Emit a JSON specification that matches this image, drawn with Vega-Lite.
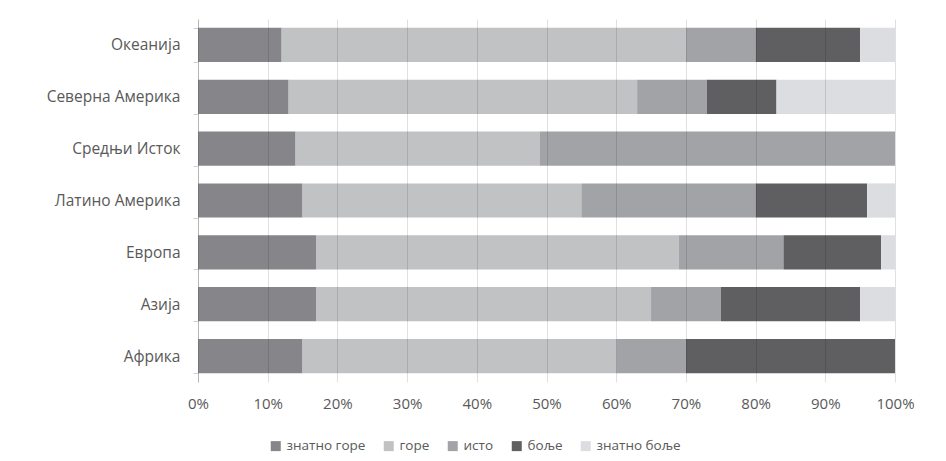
{
  "$schema": "https://vega.github.io/schema/vega-lite/v6.json",
  "width": 697,
  "height": 363,
  "autosize": "none",
  "padding": {"left": 198, "top": 19, "right": 51, "bottom": 79},
  "background": "white",
  "config": {
    "view": {"stroke": null},
    "font": "Open Sans"
  },
  "data": {
    "values": [
      {"region": "Океанија", "answer": "знатно горе", "ord": 1, "value": 12},
      {"region": "Океанија", "answer": "горе", "ord": 2, "value": 58},
      {"region": "Океанија", "answer": "исто", "ord": 3, "value": 10},
      {"region": "Океанија", "answer": "боље", "ord": 4, "value": 15},
      {"region": "Океанија", "answer": "знатно боље", "ord": 5, "value": 5},
      {"region": "Северна Америка", "answer": "знатно горе", "ord": 1, "value": 13},
      {"region": "Северна Америка", "answer": "горе", "ord": 2, "value": 50},
      {"region": "Северна Америка", "answer": "исто", "ord": 3, "value": 10},
      {"region": "Северна Америка", "answer": "боље", "ord": 4, "value": 10},
      {"region": "Северна Америка", "answer": "знатно боље", "ord": 5, "value": 17},
      {"region": "Средњи Исток", "answer": "знатно горе", "ord": 1, "value": 14},
      {"region": "Средњи Исток", "answer": "горе", "ord": 2, "value": 35},
      {"region": "Средњи Исток", "answer": "исто", "ord": 3, "value": 51},
      {"region": "Средњи Исток", "answer": "боље", "ord": 4, "value": 0},
      {"region": "Средњи Исток", "answer": "знатно боље", "ord": 5, "value": 0},
      {"region": "Латино Америка", "answer": "знатно горе", "ord": 1, "value": 15},
      {"region": "Латино Америка", "answer": "горе", "ord": 2, "value": 40},
      {"region": "Латино Америка", "answer": "исто", "ord": 3, "value": 25},
      {"region": "Латино Америка", "answer": "боље", "ord": 4, "value": 16},
      {"region": "Латино Америка", "answer": "знатно боље", "ord": 5, "value": 4},
      {"region": "Европа", "answer": "знатно горе", "ord": 1, "value": 17},
      {"region": "Европа", "answer": "горе", "ord": 2, "value": 52},
      {"region": "Европа", "answer": "исто", "ord": 3, "value": 15},
      {"region": "Европа", "answer": "боље", "ord": 4, "value": 14},
      {"region": "Европа", "answer": "знатно боље", "ord": 5, "value": 2},
      {"region": "Азија", "answer": "знатно горе", "ord": 1, "value": 17},
      {"region": "Азија", "answer": "горе", "ord": 2, "value": 48},
      {"region": "Азија", "answer": "исто", "ord": 3, "value": 10},
      {"region": "Азија", "answer": "боље", "ord": 4, "value": 20},
      {"region": "Азија", "answer": "знатно боље", "ord": 5, "value": 5},
      {"region": "Африка", "answer": "знатно горе", "ord": 1, "value": 15},
      {"region": "Африка", "answer": "горе", "ord": 2, "value": 45},
      {"region": "Африка", "answer": "исто", "ord": 3, "value": 10},
      {"region": "Африка", "answer": "боље", "ord": 4, "value": 30},
      {"region": "Африка", "answer": "знатно боље", "ord": 5, "value": 0}
    ]
  },
  "mark": {"type": "bar"},
  "encoding": {
    "y": {
      "field": "region",
      "type": "nominal",
      "sort": ["Океанија", "Северна Америка", "Средњи Исток", "Латино Америка", "Европа", "Азија", "Африка"],
      "scale": {"paddingInner": 0.34, "paddingOuter": 0.17},
      "axis": {
        "title": null,
        "tickBand": "extent",
        "tickSize": 5,
        "tickColor": "#d0d0d0",
        "domainColor": "#d0d0d0",
        "labelFontSize": 15.5,
        "labelColor": "#595959",
        "labelPadding": 13,
        "grid": false
      }
    },
    "x": {
      "field": "value",
      "type": "quantitative",
      "stack": "normalize",
      "scale": {"domain": [0, 1]},
      "axis": {
        "title": null,
        "format": ".0%",
        "values": [0, 0.1, 0.2, 0.3, 0.4, 0.5, 0.6, 0.7, 0.8, 0.9, 1],
        "domain": false,
        "ticks": false,
        "grid": true,
        "gridColor": "#000000",
        "gridOpacity": 0.12,
        "zindex": 1,
        "labelFlush": false,
        "labelOverlap": false,
        "labelFontSize": 15,
        "labelColor": "#595959",
        "labelPadding": 14
      }
    },
    "color": {
      "field": "answer",
      "type": "nominal",
      "scale": {
        "domain": ["знатно горе", "горе", "исто", "боље", "знатно боље"],
        "range": ["#86868a", "#c1c2c4", "#a2a3a6", "#5f5f61", "#dcdde0"]
      },
      "legend": {
        "title": null,
        "orient": "none",
        "direction": "horizontal",
        "legendX": 71,
        "legendY": 420,
        "symbolType": "square",
        "symbolSize": 100,
        "symbolStrokeWidth": 0,
        "labelFontSize": 13.5,
        "labelColor": "#595959",
        "columnPadding": 16,
        "labelOffset": 4
      }
    },
    "order": {"field": "ord", "type": "quantitative"}
  }
}
